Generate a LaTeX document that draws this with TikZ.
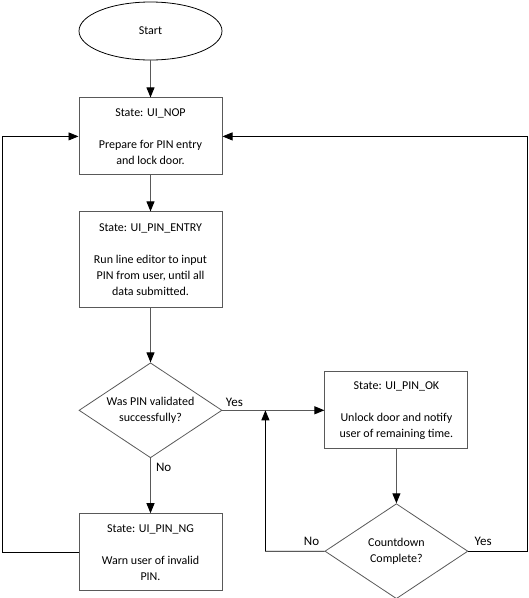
\documentclass[tikz,border=0pt]{standalone}
\usepackage{fontspec}
\setmainfont{Carlito}
\usetikzlibrary{shapes.geometric, positioning, arrows.meta}
\tikzset{
	x=1pt, y=-1pt, % one unit is one pixel of the page
	>={Triangle[length=10pt, width=8pt, color=black]}, % filled black arrow heads
	every node/.style={font=\fontsize{12}{16}\selectfont},
	state/.style={rectangle, draw=black!65, line width=1pt, align=center, minimum width=143pt, minimum height=77pt, inner sep=9pt}, % boxes for the states
	decision/.style={diamond, draw=black!65, line width=0.8pt, align=center, aspect=1.5, inner sep=0pt, minimum width=143pt, minimum height=95pt}, % yes/no questions
	flow/.style={->, draw=black!65, line width=1pt}, % straight arrows
	loop/.style={->, draw=black, line width=0.8pt}, % arrows going back
	answer/.style={font=\fontsize{13}{15}\selectfont, inner sep=2pt},
}
\begin{document}
\begin{tikzpicture}
		\useasboundingbox (0,0) rectangle (529,598);
		\node[ellipse, draw=black, line width=0.8pt, minimum width=143pt, minimum height=58pt] (start) at (150.5,31) {Start};
		\node[state, below=37pt of start] (nop) {State: UI\_NOP\\[16pt]Prepare for PIN entry\\and lock door.};
		\node[state, minimum height=96pt, below=36pt of nop] (entry) {State: UI\_PIN\_ENTRY\\[16pt]Run line editor to input\\PIN from user, until all\\data submitted.};
		\node[decision, below=54pt of entry] (valid) {Was PIN validated\\successfully?};
		\node[state, below=55pt of valid] (ng) {State: UI\_PIN\_NG\\[16pt]Warn user of invalid\\PIN.};
		\node[state, right=102pt of valid] (ok) {State: UI\_PIN\_OK\\[16pt]Unlock door and notify\\user of remaining time.};
		\node[decision, below=54pt of ok] (done) {Countdown\\Complete?};

		\draw[flow] 	(start) edge (nop)
				(nop) edge (entry)
				(entry) edge (valid)
				(ok) edge (done);
		\draw[flow] (valid) -- node[answer, pos=0, below right=2pt and 3pt] {No} (ng);
		\draw[flow] (valid) -- node[answer, pos=0, above right=1pt and 1pt] {Yes} (ok);

		\draw[loop] (ng.west) -- ++(-76,0) |- (nop.west);
		\draw[loop] (done.east) -- node[answer, pos=0, above right=3pt and 4pt] {Yes} ++(59,0) |- (nop.east);
		\draw[loop] (done.west) -- node[answer, pos=0, above left=3pt and 3pt] {No} ++(-59,0) -- ([xshift=43pt]valid.east);
	\end{tikzpicture}
\end{document}
